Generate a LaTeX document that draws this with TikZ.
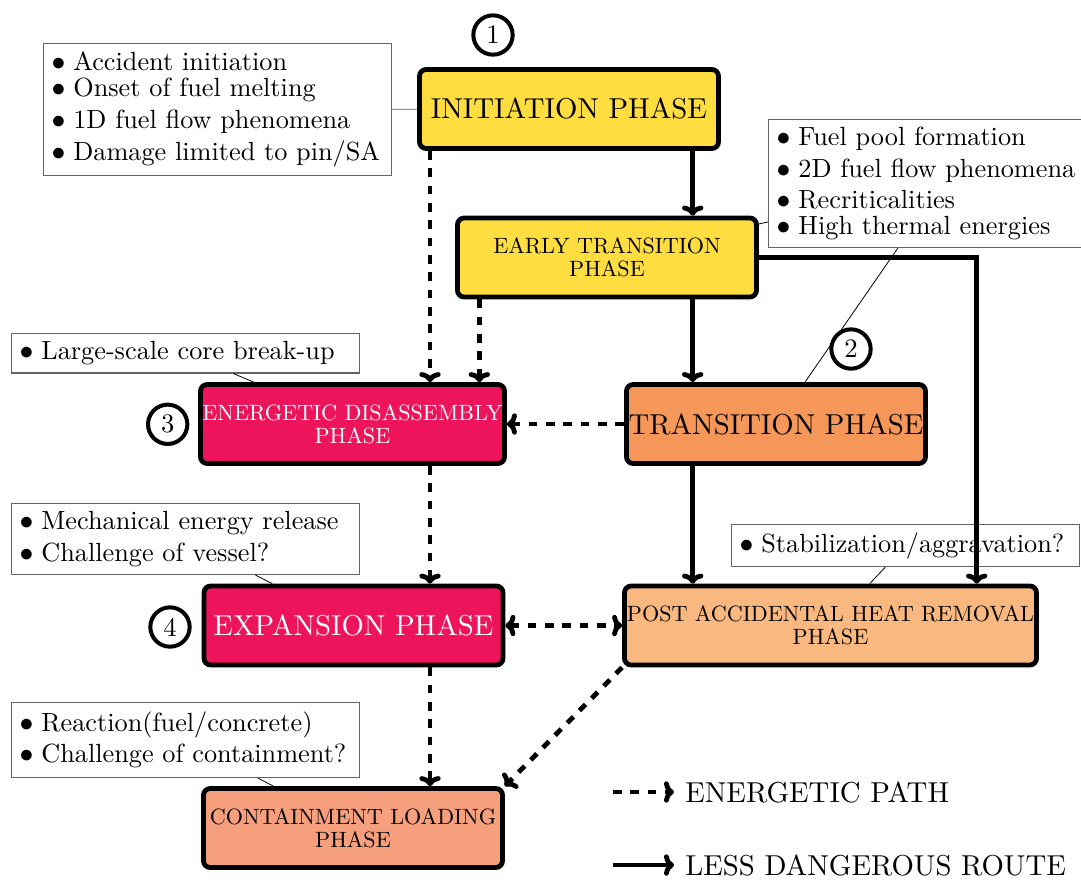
\documentclass[tikz,border=0pt]{standalone}
\usepackage{fontspec}
\setmainfont{lmroman10-regular.otf}[BoldFont=lmroman10-bold.otf]
\usetikzlibrary{arrows.meta}
\definecolor{cyel}{RGB}{254,221,64}
\definecolor{corange}{RGB}{245,151,89}
\definecolor{cpink}{RGB}{238,20,91}
\definecolor{cpost}{RGB}{249,184,127}
\definecolor{ccont}{RGB}{245,159,124}
\definecolor{cnote}{RGB}{100,100,100}
\newcommand\mybul{$\bullet$\hspace{6pt}}
\begin{document}
\begin{tikzpicture}[x=0.75pt,y=-0.75pt,
 phase/.style={draw=black, line width=3.6pt, rounded corners=5pt, minimum width=224.25pt, minimum height=59.25pt, inner sep=0pt, align=center},
 bigf/.style={font=\fontsize{21.6}{24}\selectfont},
 smallf/.style={font=\fontsize{16.6}{17}\selectfont},
 note/.style={draw=cnote, line width=0.8pt, anchor=north west, text width=249pt, inner xsep=6pt, inner ysep=0pt, align=left, font=\fontsize{19.7}{23.5}\selectfont},
 num/.style={circle, draw=black, line width=3pt, minimum size=29.5pt, inner sep=0pt, font=\fontsize{20}{22}\selectfont},
 pinline/.style={draw=black, line width=0.6pt},
 tipx/.tip={Computer Modern Rightarrow[length=7.5pt,width=16pt]},
 sol/.style={line width=3.6pt, -tipx},
 dot/.style={sol, dash pattern=on 6.5pt off 6.5pt},
 dotboth/.style={line width=3.6pt, dash pattern=on 6.5pt off 6.5pt, tipx-tipx},
]
\useasboundingbox (0,0) rectangle (1081,879);
\clip (0,0) rectangle (1081,879);

% annotation boxes
\node[note, minimum height=99pt] (n1) at (43,43) {\mybul Accident initiation\\[-4pt]\mybul Onset of fuel melting\\\mybul 1D fuel flow phenomena\\[0.5pt]\mybul Damage limited to pin/SA};
\node[note, minimum height=96pt] (n2) at (768,119) {\mybul Fuel pool formation\\\mybul 2D fuel flow phenomena\\\mybul Recriticalities\\[-4pt]\mybul High thermal energies};
\node[note, minimum height=29.6pt] (n3) at (11,333) {\mybul Large-scale core break-up};
\node[note, minimum height=53.25pt] (n4) at (11,503) {\mybul Mechanical energy release\\\mybul Challenge of vessel?};
\node[note, minimum height=31.5pt] (n5) at (731,524) {\mybul Stabilization/aggravation?};
\node[note, minimum height=56.25pt] (n6) at (11,702) {\mybul Reaction(fuel/concrete)\\\mybul Challenge of containment?};

% phases
\node[phase, bigf, fill=cyel] (init) at (569,109) {INITIATION PHASE};
\node[phase, smallf, fill=cyel] (early) at (607,257.5) {EARLY TRANSITION\\PHASE};
\node[phase, bigf, fill=corange] (trans) at (776,424) {TRANSITION PHASE};
\node[phase, smallf, fill=cpink, text=white, minimum width=228pt] (ener) at (352.5,424) {ENERGETIC DISASSEMBLY\\PHASE};
\node[phase, bigf, fill=cpink, text=white] (exp) at (353.5,625.5) {EXPANSION PHASE};
\node[phase, smallf, fill=cpost, minimum width=309pt] (post) at (830.5,625.5) {POST ACCIDENTAL HEAT REMOVAL\\PHASE};
\node[phase, smallf, fill=ccont] (cont) at (353,828) {CONTAINMENT LOADING\\PHASE};

% numbers
\node[num] (k1) at (493,35) {1};
\node[num] (k2) at (851,349) {2};
\node[num] (k3) at (167.7,424.3) {3};
\node[num] (k4) at (170,627) {4};

% pin lines
\draw[pinline, draw=cnote] (n1) -- (init);
\draw[pinline] (early) -- (n2);
\draw[pinline] (trans) -- (n2);
\draw[pinline] (n3) -- (ener);
\draw[pinline] (n4) -- (exp);
\draw[pinline] (n5) -- (post);
\draw[pinline] (n6) -- (cont);

% columns
\coordinate (c1) at (692.7,0);
\coordinate (c2) at (976.7,0);
\coordinate (c3) at (430,0);
\coordinate (c4) at (479.3,0);

% solid arrows
\draw[sol] (init.south -| c1) -- (early.north -| c1);
\draw[sol] (early.south -| c1) -- (trans.north -| c1);
\draw[sol] (trans.south -| c1) -- (post.north -| c1);
\draw[sol] (early.east) -| (post.north -| c2);

% energetic arrows
\draw[dot] (init.south -| c3) -- (ener.north -| c3);
\draw[dot] (early.south -| c4) -- (ener.north -| c4);
\draw[dot] (trans.west) -- (ener.east);
\draw[dot] (ener.south -| c3) -- (exp.north -| c3);
\draw[dotboth] (exp.east) -- (post.west);
\draw[dot] (exp.south -| c3) -- (cont.north -| c3);
\draw[dot] (post.south west) -- (cont.north east);

% legend
\coordinate (la1) at (613,792);
\coordinate (la2) at (674,792);
\coordinate (lb1) at (613,865);
\coordinate (lb2) at (674,865);
\draw[dot] (la1) -- (la2);
\draw[sol] (lb1) -- (lb2);
\node[bigf, anchor=west, inner sep=0pt] (lt1) at (685,792) {ENERGETIC PATH};
\node[bigf, anchor=west, inner sep=0pt] (lt2) at (685,865) {LESS DANGEROUS ROUTE};
\end{tikzpicture}
\end{document}
